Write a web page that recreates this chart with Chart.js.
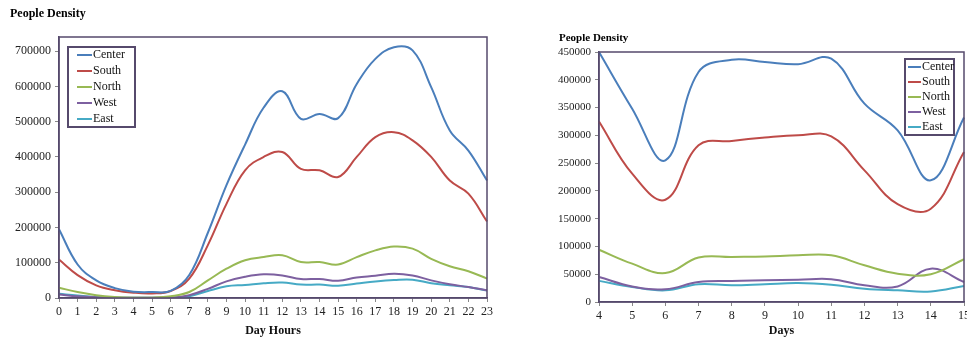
<!DOCTYPE html>
<html>
<head>
<meta charset="utf-8">
<script src="https://cdn.jsdelivr.net/npm/chart.js@4.4.1/dist/chart.umd.min.js"></script>
<style>
  html, body { margin: 0; padding: 0; background: #fff; overflow: hidden; width: 967px; height: 338px; }
  #wrapA { position: absolute; left: 0; top: 0; width: 500px; height: 338px; }
  #wrapB { position: absolute; left: 540px; top: 0; width: 440px; height: 338px; }
</style>
</head>
<body>
<div id="wrapA"><canvas id="hoursChart"></canvas></div>
<div id="wrapB"><canvas id="daysChart"></canvas></div>
<script>
// chart 1: density by hour of day
const hourLabels = ['0','1','2','3','4','5','6','7','8','9','10','11','12','13','14','15','16','17','18','19','20','21','22','23'];
const hourTicks = [0, 100000, 200000, 300000, 400000, 500000, 600000, 700000];
const hourCenter = [195000, 95000, 50000, 28000, 18000, 17000, 20000, 65000, 185000, 320000, 435000, 540000, 586000, 508000, 522000, 510000, 607000, 678000, 711000, 702000, 598000, 475000, 418000, 333000];
const hourSouth  = [109000, 65000, 36000, 22000, 15000, 13000, 20000, 55000, 150000, 267000, 362000, 400000, 414000, 366000, 362000, 343000, 400000, 456000, 470000, 447000, 400000, 333000, 296000, 217000];
const hourNorth  = [29000, 17000, 8000, 3000, 1000, 1000, 5000, 17000, 50000, 83000, 107000, 116000, 121000, 102000, 102000, 95000, 116000, 135000, 146000, 140000, 111000, 90000, 76000, 55000];
const hourWest   = [10000, 5000, 2000, 1000, 1000, 1000, 1000, 8000, 26000, 47000, 60000, 67000, 64000, 54000, 54000, 49000, 58000, 63000, 69000, 64000, 50000, 39000, 31000, 22000];
const hourEast   = [12000, 7000, 3000, 1000, 1000, 1000, 1000, 5000, 20000, 33000, 37000, 42000, 44000, 38000, 38000, 35000, 41000, 47000, 51000, 52000, 42000, 36000, 31000, 21000];

// chart 2: density by day
const dayLabels = ['4','5','6','7','8','9','10','11','12','13','14','15'];
const dayTicks = [0, 50000, 100000, 150000, 200000, 250000, 300000, 350000, 400000, 450000];
const dayCenter = [450000, 348000, 255000, 414000, 436000, 432000, 428000, 438000, 357000, 309000, 219000, 332000];
const daySouth  = [325000, 231000, 184000, 282000, 290000, 296000, 300000, 298000, 237000, 176000, 168000, 270000];
const dayNorth  = [94000, 69000, 52000, 80000, 81000, 82000, 84000, 84000, 66000, 51000, 50000, 77000];
const dayWest   = [45000, 28000, 23000, 36000, 38000, 39000, 40000, 41000, 30000, 28000, 60000, 36000];
const dayEast   = [38000, 27000, 21000, 32000, 30000, 32000, 34000, 31000, 24000, 21000, 19000, 29000];

const seriesNames = ['Center', 'South', 'North', 'West', 'East'];
const seriesColors = ['#4A7EBB', '#BE4B48', '#98B954', '#7D60A0', '#46AAC5'];

const serif = "'Liberation Serif', 'DejaVu Serif', serif";
const frameColor = '#564A6C';

function makeDatasets(rows) {
    return rows.map((vals, i) => ({
        label: seriesNames[i],
        data: vals,
        borderColor: seriesColors[i],
        backgroundColor: seriesColors[i],
        borderWidth: 2,
        pointRadius: 0,
        tension: 0.4,
        fill: false
    }));
}

// draws title, plot frame and the boxed legend inside the plot
const decorPlugin = {
    id: 'decor',
    afterDraw(chart, args, opts) {
        const ctx = chart.ctx;
        const a = chart.chartArea;
        ctx.save();
        ctx.strokeStyle = frameColor;
        ctx.lineWidth = 1.5;
        ctx.strokeRect(a.left, a.top, a.right - a.left, a.bottom - a.top);

        ctx.fillStyle = '#000';
        ctx.font = 'bold ' + opts.titleSize + 'px ' + serif;
        ctx.textBaseline = 'middle';
        ctx.textAlign = 'left';
        ctx.fillText(opts.title, opts.titleX, opts.titleY);

        const lg = opts.legend;
        ctx.fillStyle = '#fff';
        ctx.fillRect(lg.x, lg.y, lg.w, lg.h);
        ctx.strokeStyle = frameColor;
        ctx.lineWidth = 2;
        ctx.strokeRect(lg.x, lg.y, lg.w, lg.h);
        ctx.font = '12px ' + serif;
        chart.data.datasets.forEach((ds, i) => {
            const y = lg.firstY + i * lg.rowH;
            ctx.strokeStyle = ds.borderColor;
            ctx.lineWidth = 2;
            ctx.beginPath();
            ctx.moveTo(lg.lineX, y);
            ctx.lineTo(lg.lineX + lg.lineW, y);
            ctx.stroke();
            ctx.fillStyle = '#111';
            ctx.fillText(ds.label, lg.lineX + lg.lineW + 1, y);
        });
        ctx.restore();
    }
};

function buildChart(id, labels, rows, cfg) {
    const ctx = document.getElementById(id).getContext('2d');
    return new Chart(ctx, {
        type: 'line',
        data: { labels: labels, datasets: makeDatasets(rows) },
        plugins: [decorPlugin],
        options: {
            responsive: true,
            maintainAspectRatio: false,
            animation: false,
            layout: { padding: { top: cfg.top, right: cfg.right, left: 0, bottom: 0 } },
            plugins: {
                legend: { display: false },
                tooltip: { enabled: false },
                decor: cfg.decor
            },
            scales: {
                x: {
                    offset: false,
                    grid: { drawOnChartArea: false, tickLength: 4, color: '#888' },
                    border: { color: frameColor, width: 1.5 },
                    ticks: { color: '#222', font: { family: serif, size: 12 }, maxRotation: 0, autoSkip: false, padding: 3 },
                    title: { display: true, text: cfg.xTitle, color: '#111', font: { family: serif, size: 12, weight: 'bold' }, padding: { top: cfg.xTitlePad, bottom: 0 } },
                    afterFit(s) { s.height = cfg.xHeight; }
                },
                y: {
                    min: 0,
                    max: cfg.yMax,
                    grid: { drawOnChartArea: false, tickLength: 4, color: '#888' },
                    border: { color: frameColor, width: 1.5 },
                    ticks: { color: '#222', font: { family: serif, size: cfg.yFont }, padding: 4, callback: v => String(v) },
                    afterBuildTicks(s) { s.ticks = cfg.yTicks.map(v => ({ value: v })); },
                    afterFit(s) { s.width = cfg.yWidth; }
                }
            }
        }
    });
}

buildChart('hoursChart', hourLabels, [hourCenter, hourSouth, hourNorth, hourWest, hourEast], {
    top: 37, right: 13, yWidth: 59, xHeight: 40, xTitlePad: 4, yFont: 12,
    yMax: 740000, yTicks: hourTicks, xTitle: 'Day Hours',
    decor: {
        title: 'People Density', titleSize: 12, titleX: 10, titleY: 14,
        legend: { x: 68, y: 47, w: 67, h: 80, lineX: 77, lineW: 15, firstY: 55, rowH: 16 }
    }
});

buildChart('daysChart', dayLabels, [dayCenter, daySouth, dayNorth, dayWest, dayEast], {
    top: 52, right: 16, yWidth: 59, xHeight: 36, xTitlePad: 0, yFont: 11,
    yMax: 450000, yTicks: dayTicks, xTitle: 'Days',
    decor: {
        title: 'People Density', titleSize: 11, titleX: 19, titleY: 38,
        legend: { x: 365, y: 59, w: 49, h: 76, lineX: 368, lineW: 13, firstY: 67, rowH: 15 }
    }
});
</script>
</body>
</html>
